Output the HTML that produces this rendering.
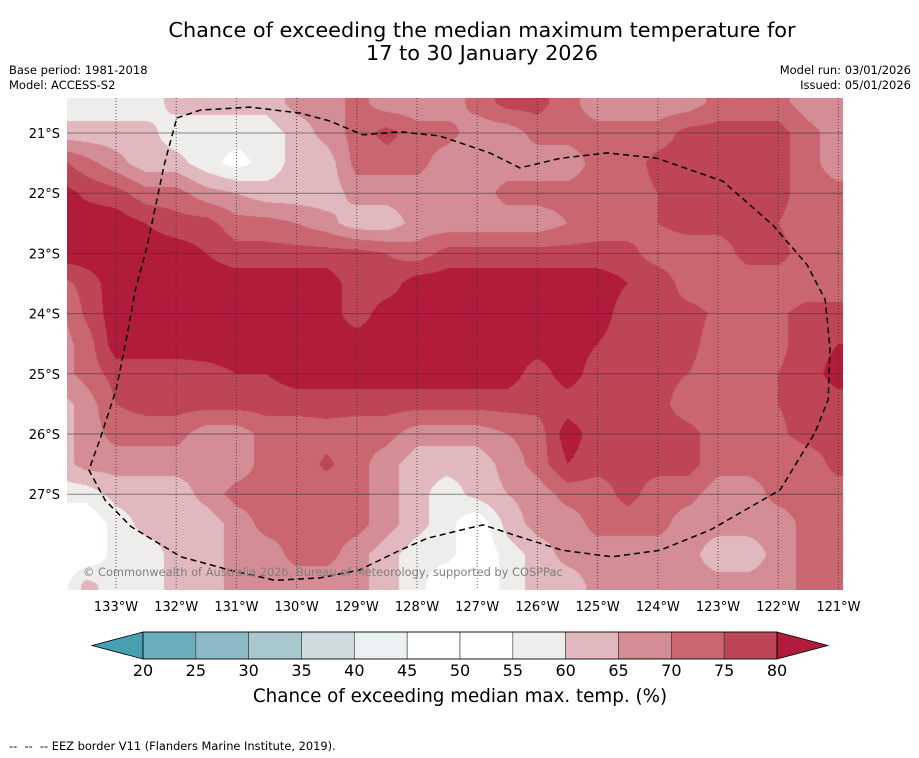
<!DOCTYPE html>
<html><head><meta charset="utf-8">
<style>
body{margin:0;background:#fff;width:919px;height:758px;overflow:hidden;font-family:"DejaVu Sans","Liberation Sans",sans-serif;}
#wrap{position:relative;width:919px;height:758px;}
.t{position:absolute;white-space:nowrap;color:#000;}
</style></head>
<body>
<div id="wrap">
<div class="t" style="left:0;width:964px;top:19px;text-align:center;font-size:20.8px;line-height:23px;">Chance of exceeding the median maximum temperature for<br>17 to 30 January 2026</div>
<div class="t" style="left:9px;top:63px;font-size:11.5px;line-height:15px;">Base period: 1981-2018<br>Model: ACCESS-S2</div>
<div class="t" style="right:8px;top:63px;font-size:11.5px;line-height:15px;text-align:right;">Model run: 03/01/2026<br>Issued: 05/01/2026</div>
<canvas id="map" width="776" height="492" style="position:absolute;left:67px;top:98px;"></canvas>
<svg id="ov" width="919" height="758" style="position:absolute;left:0;top:0;"></svg>
<div class="t" style="left:83px;top:565px;font-size:11.4px;color:#808080;">© Commonwealth of Australia 2026, Bureau of Meteorology, supported by COSPPac</div>
<div class="t" style="left:0;width:920px;top:686px;text-align:center;font-size:18.3px;">Chance of exceeding median max. temp. (%)</div>
<div class="t" style="left:9px;top:739px;font-size:11.4px;">--&nbsp; --&nbsp; -- EEZ border V11 (Flanders Marine Institute, 2019).</div>
</div>
<script>
// ---- data ----
const lons = [-133.5,-133,-132.5,-132,-131.5,-131,-130.5,-130,-129.5,-129,-128.5,-128,-127.5,-127,-126.5,-126,-125.5,-125,-124.5,-124,-123.5,-123,-122.5,-122,-121.5,-121];
const lonStart = -134;
const lats = [-20.5,-21,-21.5,-22,-22.5,-23,-23.5,-24,-24.5,-25,-25.5,-26,-26.5,-27,-27.5,-28,-28.5];
const E=57,L=62,M=67,R=72,D=77,X=83,W=50;
const probRows = [
[E,E,E,E,L,L,L,L,M,M,R,M,M,M,R,D,D,R,M,M,M,M,R,R,R,M,M],
[L,L,L,L,E,E,E,E,L,M,R,D,R,R,M,M,R,R,R,R,R,D,D,D,D,R,M],
[D,R,M,L,L,E,53,E,L,L,R,R,R,M,M,M,M,M,R,R,D,D,D,D,D,R,M],
[X,79,D,R,R,M,65,L,L,L,M,M,M,M,M,R,R,R,R,R,75,D,D,D,D,R,R],
[X,X,X,80,D,D,R,R,70,M,L,L,M,M,M,M,M,70,R,R,75,D,D,D,75,R,R],
[X,X,X,X,X,80,D,D,D,D,D,75,R,D,D,D,D,D,D,D,R,R,R,D,D,R,R],
[R,D,X,X,X,X,X,X,X,X,D,D,X,X,X,X,X,X,X,80,79,R,R,R,R,R,R],
[M,76,X,X,X,X,X,X,X,X,D,X,X,X,X,X,X,X,X,D,D,D,74,R,74,D,D],
[M,R,X,X,X,X,X,X,X,X,X,X,X,X,X,X,X,X,80,D,D,D,R,R,74,D,80],
[M,R,D,D,D,78,80,80,X,X,X,X,X,X,X,X,D,X,D,D,D,75,R,R,75,D,X],
[L,M,75,D,D,D,D,D,D,D,D,D,D,D,D,D,D,D,D,D,D,R,R,R,75,D,D],
[L,M,R,R,R,M,M,R,R,73,R,R,M,M,M,70,R,X,D,D,D,D,R,R,74,D,D],
[L,M,M,M,M,M,M,R,R,76,R,M,L,L,L,M,R,80,D,D,D,D,R,R,R,R,D],
[E,E,L,L,L,M,R,R,R,R,R,M,L,E,L,65,M,R,R,D,R,R,M,M,R,R,R],
[W,W,E,L,L,L,M,R,R,R,R,M,L,E,W,L,M,M,R,R,R,M,M,M,M,R,R],
[W,W,E,E,L,L,M,M,R,R,M,L,E,E,W,E,L,M,M,M,M,M,L,L,M,R,R],
[W,L,E,E,L,L,M,M,M,M,M,L,E,W,W,E,L,L,M,M,M,M,M,M,M,R,R]
];
const levels = [20,25,30,35,40,45,50,55,60,65,70,75,80];
const colors = ["#46a0b0","#6badbd","#8bb9c5","#a9c8cd","#cfdadc","#ebf0f2","#ffffff","#ffffff","#eeedeb","#e0b8bd","#d48d95","#c9666f","#be4555","#b01c39"];
const lonTicks = [-133,-132,-131,-130,-129,-128,-127,-126,-125,-124,-123,-122,-121];
const latTicks = [-21,-22,-23,-24,-25,-26,-27];
const eezLon = [-131.99,-131.60,-130.77,-129.94,-129.45,-128.90,-128.28,-127.62,-126.79,-126.29,-125.62,-124.84,-124.01,-122.92,-122.09,-121.52,-121.22,-121.14,-121.17,-121.39,-121.97,-123.12,-123.96,-124.76,-125.59,-126.29,-126.90,-127.12,-127.82,-128.28,-128.96,-129.61,-130.36,-131.11,-131.92,-132.75,-133.18,-133.45,-133.27,-133.0,-132.83,-132.68,-132.49,-132.32,-132.20,-131.99];
const eezLat = [-20.75,-20.62,-20.57,-20.67,-20.80,-21.03,-20.98,-21.05,-21.33,-21.58,-21.42,-21.33,-21.42,-21.80,-22.53,-23.19,-23.77,-24.57,-25.43,-25.98,-26.93,-27.59,-27.93,-28.04,-27.93,-27.71,-27.51,-27.56,-27.73,-27.93,-28.26,-28.39,-28.43,-28.26,-28.04,-27.54,-27.10,-26.60,-26.10,-25.27,-24.44,-23.61,-22.91,-22.11,-21.53,-20.75];
// ---- axes ----
const PX=60.2;
function xOf(lon){return 116+(lon+133)*PX;}
function yOf(lat){return 133+(-21-lat)*PX;}
function lonOf(x){return (x-116)/PX-133;}
function latOf(y){return -21-(y-133)/PX;}
// ---- map raster ----
(function(){
  const cv=document.getElementById('map');const ctx=cv.getContext('2d');
  const img=ctx.createImageData(776,492);
  const rgb=colors.map(c=>[parseInt(c.substr(1,2),16),parseInt(c.substr(3,2),16),parseInt(c.substr(5,2),16)]);
  const nr=probRows.length,nc=probRows[0].length;
  for(let py=0;py<492;py++){
    const lat=latOf(98+py+0.5);
    let fr=(lats[0]-lat)/0.5; fr=Math.max(0,Math.min(nr-1.0001,fr));
    const r0=Math.floor(fr),ty=fr-r0;
    for(let px=0;px<776;px++){
      const lon=lonOf(67+px+0.5);
      let fc=(lon-lonStart)/0.5; fc=Math.max(0,Math.min(nc-1.0001,fc));
      const c0=Math.floor(fc),tx=fc-c0;
      const v=(probRows[r0][c0]*(1-tx)+probRows[r0][c0+1]*tx)*(1-ty)+(probRows[r0+1][c0]*(1-tx)+probRows[r0+1][c0+1]*tx)*ty;
      let b=0;while(b<levels.length&&v>=levels[b])b++;
      const col=rgb[b];const i=(py*776+px)*4;
      img.data[i]=col[0];img.data[i+1]=col[1];img.data[i+2]=col[2];img.data[i+3]=255;
    }
  }
  ctx.putImageData(img,0,0);
})();
// ---- overlay ----
const NS="http://www.w3.org/2000/svg";
const ov=document.getElementById('ov');
const FF='DejaVu Sans, Liberation Sans, sans-serif';
function mk(tag,attrs){const e=document.createElementNS(NS,tag);for(const k in attrs)e.setAttribute(k,attrs[k]);ov.appendChild(e);return e;}
lonTicks.forEach(lon=>{
  const l=mk('line',{x1:xOf(lon),x2:xOf(lon),y1:98,y2:590,stroke:'#333','stroke-width':1,'stroke-dasharray':'1,2','stroke-opacity':0.8});
  
  
  const t=mk('text',{x:xOf(lon),y:611,'text-anchor':'middle','font-size':13,'font-family':FF});
  t.textContent=Math.abs(lon)+'°W';
  
  
});
latTicks.forEach(lat=>{
  const l=mk('line',{x1:67,x2:843,y1:yOf(lat),y2:yOf(lat),stroke:'#333','stroke-width':1,'stroke-opacity':0.55});
  
  
  const t=mk('text',{x:60,y:yOf(lat)+5,'text-anchor':'end','font-size':13,'font-family':FF});
  t.textContent=Math.abs(lat)+'°S';
  
  
});
{
  let d='';eezLon.forEach((lon,i)=>{d+=(i?'L':'M')+xOf(lon).toFixed(1)+','+yOf(eezLat[i]).toFixed(1);});
  const p=mk('path',{d:d,fill:'none',stroke:'#000','stroke-width':1.5,'stroke-dasharray':'6,4'});
  
  
}
// colorbar
{
  const x0=143,x1=777,y0=632,y1=659,n=levels.length-1,w=(x1-x0)/n;
  const lt=mk('polygon',{points:`92,645.5 ${x0},${y0} ${x0},${y1}`,fill:colors[0],stroke:'#000','stroke-width':0.8});
  
  
  for(let i=0;i<n;i++){
    const r=mk('rect',{x:x0+i*w,y:y0,width:w,height:y1-y0,fill:colors[i+1],stroke:'#333','stroke-width':0.6});
    
    
  }
  const rt=mk('polygon',{points:`${x1},${y0} 828,645.5 ${x1},${y1}`,fill:colors[colors.length-1],stroke:'#000','stroke-width':0.8});
  
  
  mk('rect',{x:x0,y:y0,width:x1-x0,height:y1-y0,fill:'none',stroke:'#000','stroke-width':0.8});
  levels.forEach((lv,i)=>{
    const t=mk('text',{x:x0+i*w,y:676,'text-anchor':'middle','font-size':16,'font-family':FF});
    t.textContent=lv;
    
    
  });
}
</script>
</body></html>
